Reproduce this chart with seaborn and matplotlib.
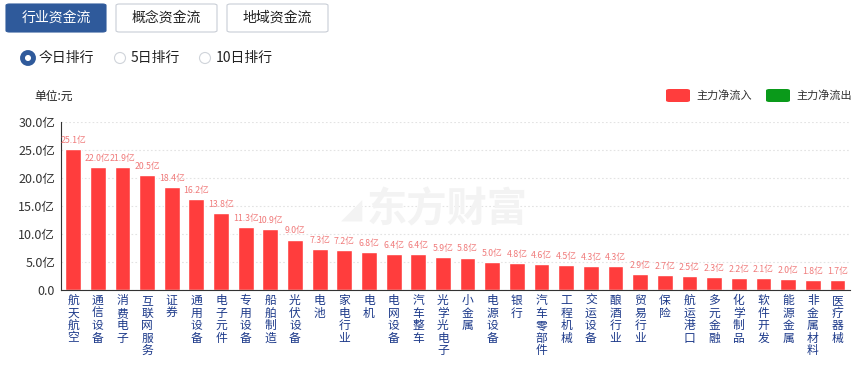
import matplotlib
matplotlib.use('Agg')
import matplotlib.pyplot as plt
import seaborn as sns
import pandas as pd
from matplotlib.patches import FancyBboxPatch, Circle
from matplotlib.ticker import FuncFormatter

# 行业资金流 data (亿元)
industries = ['航天航空', '通信设备', '消费电子', '互联网服务', '证券', '通用设备', '电子元件',
              '专用设备', '船舶制造', '光伏设备', '电池', '家电行业', '电机', '电网设备',
              '汽车整车', '光学光电子', '小金属', '电源设备', '银行', '汽车零部件', '工程机械',
              '交运设备', '酿酒行业', '贸易行业', '保险', '航运港口', '多元金融', '化学制品',
              '软件开发', '能源金属', '非金属材料', '医疗器械']
inflow = [25.1, 22.0, 21.9, 20.5, 18.4, 16.2, 13.8, 11.3, 10.9, 9.0, 7.3, 7.2, 6.8, 6.4,
          6.4, 5.9, 5.8, 5.0, 4.8, 4.6, 4.5, 4.3, 4.3, 2.9, 2.7, 2.5, 2.3, 2.2, 2.1, 2.0, 1.8, 1.7]
yticks = [0, 5, 10, 15, 20, 25, 30]

sns.set_style('white')
plt.rcParams['font.family'] = ['Noto Sans CJK SC', 'DejaVu Sans']

data = pd.DataFrame({'行业': industries, '净流入': inflow})

fig = plt.figure(figsize=(8.68, 3.65), dpi=100)
ax = fig.add_axes([0.070, 0.2055, 0.909, 0.4603])

# watermark
fig.text(0.515, 0.425, '东方财富', fontsize=29, color='#f3f3f3', fontweight='bold',
         ha='center', va='center', zorder=0)
fig.text(0.405, 0.425, '◢', fontsize=20, color='#f3f3f3', ha='center', va='center', zorder=0,
         family=['DejaVu Sans'])
ax.patch.set_alpha(0)

sns.barplot(data=data, x='行业', y='净流入', color='#ff3d3d', saturation=1, width=0.64, ax=ax)
ax.bar_label(ax.containers[0], labels=[f'{v:.1f}亿' for v in inflow],
             padding=3, fontsize=6.3, color='#f07a7a')

ax.set_ylim(0, 30)
ax.set_xlim(-0.5, len(industries) - 0.5)
ax.set_yticks(yticks)
ax.yaxis.set_major_formatter(FuncFormatter(lambda v, p: '0.0' if v == 0 else f'{v:.1f}亿'))
ax.grid(axis='y', linestyle=(0, (1.5, 2)), color='#e3e3e3', linewidth=0.8)
ax.set_axisbelow(True)
ax.set_xlabel('')
ax.set_ylabel('')
ax.spines[['top', 'right']].set_visible(False)
ax.spines['left'].set_color('#333333')
ax.spines['bottom'].set_color('#333333')
ax.tick_params(axis='y', labelsize=9, colors='#333333', length=0, pad=4)
ax.tick_params(axis='x', length=0, pad=3)
ax.set_xticks(range(len(industries)))
ax.set_xticklabels(['\n'.join(s) for s in industries], fontsize=8.5, color='#1d3a8a',
                   va='top', linespacing=0.95)

# top buttons
W, H = 868, 365
def px(x, y):
    return x / W, 1 - y / H

buttons = [('行业资金流', 6, 106, True), ('概念资金流', 116, 217, False), ('地域资金流', 227, 328, False)]
for label, x0, x1, active in buttons:
    bx, by = px(x0, 32)
    box = FancyBboxPatch((bx, by), (x1 - x0) / W, 28 / H, boxstyle='round,pad=0,rounding_size=0.004',
                         transform=fig.transFigure, facecolor='#2f5a9b' if active else 'white',
                         edgecolor='#2f5a9b' if active else '#c9ced6', linewidth=0.8)
    fig.add_artist(box)
    cx, cy = px((x0 + x1) / 2, 18)
    fig.text(cx, cy, label, ha='center', va='center', fontsize=10,
             color='white' if active else '#222222')

# radio buttons
radios = [('今日排行', 28, True), ('5日排行', 120, False), ('10日排行', 205, False)]
for label, x, on in radios:
    cx, cy = px(x, 58)
    circ = Circle((x, H - 58), 5.5, transform=None, facecolor='white',
                  edgecolor='#2f5a9b' if on else '#d0d4da', linewidth=3.5 if on else 0.8)
    fig.add_artist(circ)
    fig.text((x + 11) / W, cy, label, ha='left', va='center', fontsize=10, color='#222222')

# unit
fig.text(*px(34, 96), '单位:元', ha='left', va='center', fontsize=8.5, color='#222222')

# legend
for label, x, c in [('主力净流入', 666, '#ff3d3d'), ('主力净流出', 766, '#0a9a1a')]:
    lx, ly = px(x, 102)
    fig.add_artist(FancyBboxPatch((lx, ly), 24 / W, 13 / H, boxstyle='round,pad=0,rounding_size=0.004',
                                  transform=fig.transFigure, facecolor=c, edgecolor='none'))
    fig.text((x + 30) / W, ly + 6.5 / H, label, ha='left', va='center', fontsize=8, color='#333333')

fig.savefig('out.png', dpi=100)
